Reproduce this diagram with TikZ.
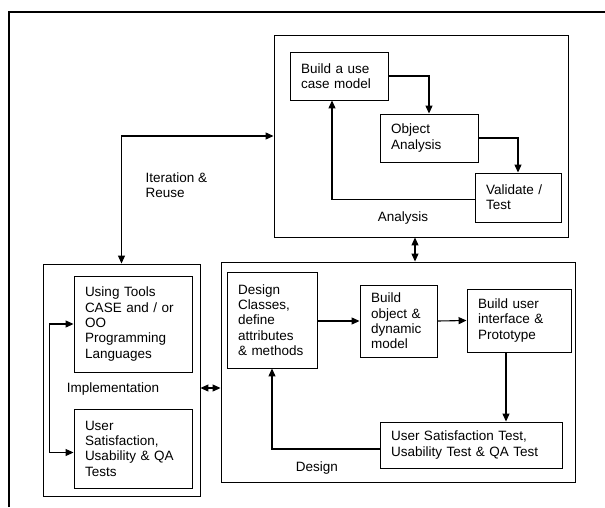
\documentclass[tikz,border=0pt]{standalone}
\usepackage{fontspec}
\setmainfont{Liberation Sans}
\usetikzlibrary{arrows.meta}

\begin{document}
\begin{tikzpicture}[x=1pt, y=-1pt,
        proc/.style={draw, line width=0.9pt, align=left, inner xsep=11pt, inner ysep=1pt},
        phase/.style={draw, line width=0.9pt, inner sep=0pt},
        flow/.style={line width=1.1pt, -{Triangle[length=8pt, width=7pt]}},
        both/.style={line width=1.1pt, {Triangle[length=8pt, width=7pt]}-{Triangle[length=8pt, width=7pt]}},
        every node/.style={font=\fontsize{13.5}{15.3}\selectfont}]
        \useasboundingbox (0,0) rectangle (605,507);

        % Seitenrand
        \draw[line width=1.8pt] (9,507) -- (9,12) -- (605,12);

        % Phasen
        \node[phase, minimum width=294pt, minimum height=202pt] (analysis) at (421,136) {};
        \node[phase, minimum width=157pt, minimum height=232pt] (impl) at (121.5,380) {};
        \node[phase, minimum width=354pt, minimum height=220pt] (design) at (398,372) {};

        \node (analysislbl) at (403,218) {Analysis};
        \node (impllbl) at (113,389) {Implementation};
        \node (designlbl) at (317,468) {Design};
        \node[anchor=west, align=left] (iterlbl) at (142,185) {Iteration \&\\Reuse};

        % Analyse
        \node[proc, text width=76pt, minimum height=48pt] (usecase) at (339,76) {Build a use\\case model};
        \node[proc, text width=76pt, minimum height=48pt] (objanalysis) at (429,138) {Object\\Analysis};
        \node[proc, text width=64pt, minimum height=49pt] (validate) at (518,197.5) {Validate /\\Test};

        \draw[flow] (usecase.east) -| (objanalysis.north);
        \draw[flow] (objanalysis.east) -| (validate.north);
        \draw[flow] ([yshift=-2pt]validate.west) -| ([xshift=-7pt]usecase.south);

        % Implementierung
        \node[proc, text width=96pt, minimum height=96pt] (tools) at (133,324) {Using Tools\\CASE and / or\\OO\\Programming\\Languages};
        \node[proc, text width=96pt, minimum height=79pt] (usersat) at (133,448.5) {User\\Satisfaction,\\Usability \& QA\\Tests};

        \draw[both] (tools.west) -- ++(-24,0) |- ([yshift=-4pt]usersat.west);

        % Entwurf
        \node[proc, text width=68pt, minimum height=96pt] (designcls) at (272,320) {Design\\Classes,\\define\\attributes\\\& methods};
        \node[proc, text width=55pt, minimum height=72pt] (buildobj) at (398.5,321) {Build\\object \&\\dynamic\\model};
        \node[proc, text width=82pt, minimum height=63pt] (buildui) at (519,320.5) {Build user\\interface \&\\Prototype};
        \node[proc, text width=160pt, minimum height=46pt] (uxtest) at (471,445) {User Satisfaction Test,\\Usability Test \& QA Test};

        \draw[flow] (designcls.east |- buildobj.west) -- (buildobj.west);
        \draw[flow] (buildobj.east) -- (buildui.west);
        \draw[flow] ([xshift=-13pt]buildui.south) -- ([xshift=-13pt]buildui.south |- uxtest.north);
        \draw[flow] ([yshift=-4pt]uxtest.west) -| (designcls.south);

        % Verbindungen zwischen den Phasen
        \draw[both] (impl.north) |- (analysis.west);
        \draw[both] ([xshift=-6pt]analysis.south) -- ([xshift=-6pt]analysis.south |- design.north);
        \draw[both] ([yshift=-8pt]impl.east) -- ([yshift=-8pt]impl.east -| design.west);
    \end{tikzpicture}
\end{document}
